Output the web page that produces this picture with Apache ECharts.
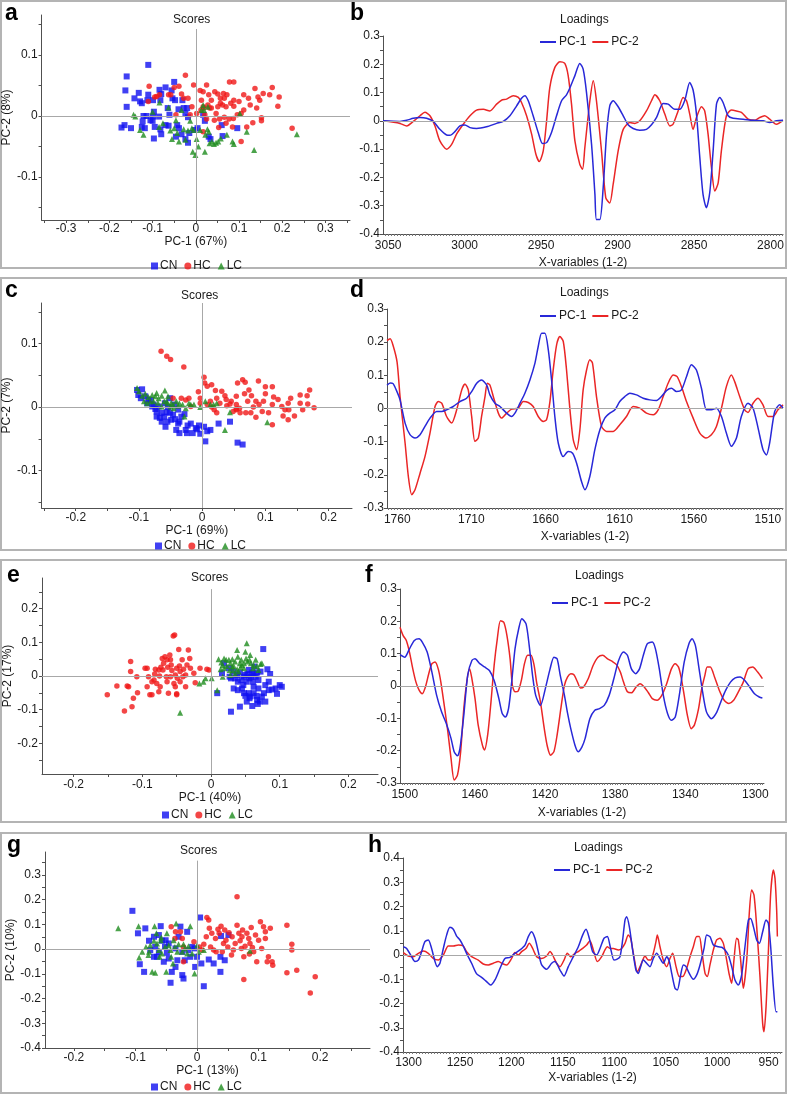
<!DOCTYPE html>
<html><head><meta charset="utf-8">
<script src="https://cdn.jsdelivr.net/npm/echarts@6/dist/echarts.min.js"></script>
<style>html,body{margin:0;padding:0;background:#fff}#c{width:787px;height:1094px}</style>
</head><body><div id="c"></div><script>
// ---------------- DATA ----------------
// Panel a scores
const aCN = [[-0.110,0.084],[-0.160,0.065],[-0.163,0.042],[-0.160,0.015],[-0.172,-0.019],[-0.165,-0.015],[-0.150,-0.020],[-0.142,0.029],[-0.132,0.038],[-0.129,0.024],[-0.125,0.021],[-0.121,0.000],[-0.114,0.000],[-0.123,-0.009],[-0.125,-0.018],[-0.118,-0.020],[-0.110,0.035],[-0.112,0.026],[-0.099,0.026],[-0.097,0.007],[-0.099,-0.001],[-0.100,-0.008],[-0.095,-0.018],[-0.097,-0.037],[-0.084,0.043],[-0.080,0.036],[-0.082,0.026],[-0.085,-0.001],[-0.082,-0.022],[-0.080,-0.030],[-0.070,0.047],[-0.065,0.013],[-0.061,0.002],[-0.070,-0.015],[-0.056,0.042],[-0.050,0.056],[-0.054,0.029],[-0.048,0.026],[-0.040,0.011],[-0.043,-0.015],[-0.046,-0.034],[-0.039,-0.020],[-0.031,0.026],[-0.028,0.013],[-0.020,0.013],[-0.024,0.004],[-0.018,-0.002],[-0.018,-0.044],[-0.015,-0.028],[-0.003,-0.023],[0.004,-0.020],[0.017,0.002],[0.021,-0.008],[0.030,-0.034],[0.034,-0.038],[0.060,-0.015],[0.062,-0.033],[0.096,-0.020],[-0.024,-0.038],[-0.033,-0.030],[-0.063,-0.016],[-0.105,-0.007]];
const aHC = [[-0.108,0.049],[-0.024,0.067],[-0.039,0.049],[-0.050,0.047],[-0.091,0.032],[-0.095,0.031],[-0.110,0.024],[-0.063,0.035],[-0.028,0.029],[-0.018,0.029],[-0.033,0.036],[-0.005,0.051],[0.010,0.042],[0.017,0.040],[0.025,0.051],[0.030,0.035],[0.044,0.040],[0.051,0.036],[0.057,0.029],[0.066,0.029],[0.072,0.035],[0.078,0.056],[0.088,0.056],[0.064,0.037],[0.036,0.026],[0.028,0.018],[0.019,0.013],[0.012,0.010],[0.002,0.004],[0.036,0.013],[0.051,0.015],[0.062,0.018],[0.070,0.015],[0.081,0.021],[0.088,0.016],[0.096,0.002],[0.105,0.004],[0.100,0.024],[0.122,0.029],[0.126,0.018],[0.137,0.045],[0.144,0.031],[0.148,0.026],[0.156,0.037],[0.171,0.035],[0.177,0.047],[0.193,0.031],[0.190,0.016],[0.141,0.013],[0.152,-0.003],[0.152,-0.008],[0.132,-0.011],[0.118,-0.018],[0.105,-0.042],[0.223,-0.020],[0.087,-0.004],[0.077,-0.005],[0.066,-0.002],[0.055,-0.005],[0.043,-0.007],[0.025,-0.005],[0.021,0.002],[0.085,-0.018],[0.070,-0.012],[0.053,-0.019],[0.013,0.026],[-0.009,0.015],[-0.013,0.002],[-0.046,0.002],[-0.058,0.035],[-0.084,0.035],[0.111,0.035],[0.088,0.026],[0.057,0.021],[0.111,0.010],[0.017,-0.026],[0.032,0.013],[0.047,0.004],[0.017,0.015]];
const aLC = [[-0.144,0.002],[-0.140,-0.001],[-0.129,-0.023],[-0.121,-0.031],[-0.100,0.007],[-0.085,-0.018],[-0.084,0.022],[-0.063,0.014],[-0.059,-0.024],[-0.055,-0.038],[-0.050,-0.020],[-0.046,-0.007],[-0.043,-0.028],[-0.039,-0.042],[-0.033,0.010],[-0.028,-0.022],[-0.013,-0.008],[-0.009,-0.020],[-0.005,-0.023],[-0.007,-0.059],[-0.001,-0.064],[0.002,-0.038],[0.010,-0.023],[0.013,0.010],[0.019,0.010],[0.022,-0.031],[0.021,-0.059],[0.027,-0.022],[0.030,-0.026],[0.032,-0.045],[0.037,-0.042],[0.042,-0.046],[0.047,-0.044],[0.052,-0.042],[0.058,-0.037],[0.072,-0.031],[0.085,-0.042],[0.088,-0.046],[0.102,0.004],[0.118,-0.026],[0.135,-0.056],[0.234,-0.030],[-0.018,-0.024],[-0.024,-0.039],[-0.076,-0.012],[0.006,-0.050],[0.017,0.018],[0.028,0.015]];

// Panel c scores
const cCN = [[-0.103,0.027],[-0.095,0.028],[-0.101,0.019],[-0.097,0.014],[-0.090,0.017],[-0.085,0.012],[-0.087,0.006],[-0.081,0.011],[-0.077,0.004],[-0.074,-0.003],[-0.072,-0.007],[-0.069,0.001],[-0.064,-0.009],[-0.060,-0.015],[-0.056,-0.008],[-0.054,0.000],[-0.051,-0.009],[-0.046,-0.012],[-0.043,-0.019],[-0.038,-0.004],[-0.036,-0.023],[-0.041,-0.036],[-0.036,-0.041],[-0.026,-0.036],[-0.024,-0.041],[-0.015,-0.041],[-0.018,-0.026],[-0.010,-0.033],[-0.008,-0.035],[-0.005,-0.029],[-0.003,-0.042],[0.005,-0.054],[0.008,-0.038],[0.013,-0.036],[0.003,-0.031],[0.026,-0.026],[0.044,-0.023],[0.056,-0.056],[0.064,-0.059],[-0.038,-0.026],[-0.049,-0.020],[-0.055,-0.023],[-0.058,-0.031],[-0.064,-0.023],[-0.067,-0.017],[-0.059,0.006],[-0.079,0.001],[-0.072,-0.015],[-0.033,-0.015],[-0.028,-0.011],[-0.023,-0.029],[-0.051,0.014],[-0.044,0.004]];
const cHC = [[-0.065,0.088],[-0.056,0.080],[-0.050,0.075],[-0.029,0.063],[0.003,0.047],[0.004,0.038],[-0.006,0.024],[0.008,0.033],[0.015,0.035],[0.021,0.026],[-0.003,0.014],[-0.021,0.014],[-0.033,0.014],[-0.046,0.014],[-0.003,0.006],[0.008,0.004],[0.013,0.009],[0.015,0.000],[0.019,-0.004],[0.023,-0.009],[0.028,0.006],[0.031,0.025],[0.036,0.018],[0.038,0.012],[0.039,0.002],[0.046,0.009],[0.049,-0.007],[0.054,0.017],[0.056,0.038],[0.064,0.043],[0.068,0.039],[0.074,0.027],[0.078,0.018],[0.067,0.021],[0.072,0.009],[0.059,-0.002],[0.060,-0.009],[0.069,-0.009],[0.077,-0.009],[0.081,0.000],[0.085,0.009],[0.090,0.004],[0.097,0.009],[0.089,0.041],[0.100,0.032],[0.111,0.032],[0.113,0.016],[0.100,0.021],[0.105,-0.009],[0.111,-0.028],[0.126,0.001],[0.131,-0.004],[0.128,-0.014],[0.136,-0.020],[0.137,-0.004],[0.140,0.014],[0.136,0.006],[0.146,-0.014],[0.159,-0.004],[0.166,0.018],[0.167,0.005],[0.177,-0.001],[0.170,0.027],[0.155,0.019],[0.155,0.006],[0.044,0.005],[0.054,-0.003],[0.085,-0.016],[0.095,-0.007],[0.111,0.004],[0.120,0.012],[0.054,0.004],[-0.018,0.001],[-0.026,0.011],[0.023,0.014],[0.054,-0.004]];
const cLC = [[-0.103,0.030],[-0.100,0.025],[-0.095,0.018],[-0.090,0.021],[-0.085,0.016],[-0.079,0.019],[-0.074,0.017],[-0.069,0.014],[-0.064,0.018],[-0.059,0.026],[-0.054,0.017],[-0.049,0.007],[-0.046,0.004],[-0.041,0.009],[-0.036,0.006],[-0.031,0.004],[-0.026,-0.002],[-0.021,0.006],[-0.013,0.004],[-0.003,0.000],[0.005,0.009],[0.013,0.004],[0.018,0.004],[0.023,0.006],[0.036,-0.036],[0.044,-0.008],[0.103,-0.024],[-0.092,0.009],[-0.087,0.006],[-0.077,0.009],[-0.070,0.007],[-0.060,0.009],[-0.055,0.006],[-0.050,0.001],[-0.045,-0.002],[-0.038,0.002],[-0.028,-0.015],[-0.018,0.004],[-0.064,0.001],[-0.056,0.009],[-0.072,0.022],[-0.082,0.009]];

// Panel e scores
const eCN = [[0.009,-0.051],[0.016,0.008],[0.019,0.038],[0.026,0.023],[0.027,-0.002],[0.029,-0.007],[0.033,0.013],[0.035,-0.007],[0.038,0.003],[0.039,-0.017],[0.042,0.010],[0.044,-0.012],[0.047,-0.027],[0.048,-0.002],[0.050,0.003],[0.052,-0.017],[0.053,0.006],[0.055,0.018],[0.056,-0.007],[0.058,-0.002],[0.060,0.010],[0.061,-0.017],[0.062,0.006],[0.063,0.028],[0.065,-0.002],[0.067,0.010],[0.069,-0.012],[0.072,0.013],[0.076,0.080],[0.082,0.020],[0.086,0.006],[0.042,-0.091],[0.029,-0.106],[0.060,-0.089],[0.048,-0.051],[0.050,-0.059],[0.055,-0.051],[0.057,-0.061],[0.062,-0.051],[0.066,-0.059],[0.067,-0.071],[0.071,-0.076],[0.074,-0.061],[0.077,-0.051],[0.079,-0.076],[0.084,-0.042],[0.089,-0.040],[0.094,-0.037],[0.096,-0.053],[0.100,-0.027],[0.103,-0.032],[0.033,-0.037],[0.039,-0.042],[0.045,-0.037],[0.062,-0.032],[0.079,-0.027],[0.084,-0.017],[0.069,-0.037],[0.056,-0.066],[0.052,-0.076],[0.068,-0.083]];
const eHC = [[-0.151,-0.056],[-0.137,-0.030],[-0.126,-0.104],[-0.122,-0.030],[-0.120,-0.032],[-0.117,0.043],[-0.117,0.013],[-0.115,-0.091],[-0.113,-0.066],[-0.108,-0.002],[-0.107,-0.050],[-0.096,0.023],[-0.093,0.023],[-0.089,-0.056],[-0.086,-0.056],[-0.083,-0.012],[-0.082,0.006],[-0.081,0.020],[-0.079,-0.022],[-0.076,-0.047],[-0.075,0.000],[-0.073,0.026],[-0.071,0.052],[-0.070,0.018],[-0.069,0.038],[-0.067,0.057],[-0.065,-0.002],[-0.063,0.026],[-0.062,-0.051],[-0.060,0.062],[-0.059,0.048],[-0.058,0.033],[-0.057,0.016],[-0.055,0.119],[-0.053,0.122],[-0.054,-0.022],[-0.052,-0.032],[-0.050,-0.056],[-0.050,-0.053],[-0.049,-0.007],[-0.047,0.079],[-0.046,0.030],[-0.045,0.013],[-0.042,0.048],[-0.041,-0.002],[-0.040,0.020],[-0.037,-0.032],[-0.035,0.033],[-0.033,0.077],[-0.031,0.052],[-0.030,0.023],[-0.025,0.008],[-0.023,-0.020],[-0.016,0.023],[-0.003,0.018],[-0.006,0.020],[-0.093,-0.032],[-0.086,-0.017],[-0.064,-0.017],[-0.074,-0.032],[-0.059,-0.002],[-0.052,0.003],[-0.045,-0.017],[-0.037,0.003],[-0.076,0.018],[-0.091,-0.002],[-0.064,0.048],[-0.050,0.023]];
const eLC = [[-0.045,-0.109],[-0.017,-0.022],[-0.011,-0.017],[-0.008,-0.007],[0.001,-0.007],[0.009,-0.042],[0.011,0.050],[0.015,0.040],[0.017,0.033],[0.019,0.052],[0.022,0.048],[0.026,0.048],[0.028,0.038],[0.031,0.050],[0.033,0.030],[0.035,0.043],[0.038,0.077],[0.039,0.057],[0.042,0.038],[0.044,0.048],[0.045,0.033],[0.048,0.023],[0.050,0.072],[0.051,0.052],[0.052,0.097],[0.053,0.043],[0.056,0.048],[0.058,0.038],[0.061,0.023],[0.065,0.048],[0.067,0.030],[0.069,0.018],[0.072,0.036],[0.074,0.038],[0.014,0.020],[0.019,0.023],[0.027,0.018],[0.032,0.016],[0.038,0.020],[0.043,0.026],[0.040,0.013],[0.035,0.006],[0.031,0.028],[0.048,0.038],[0.057,0.062],[0.062,0.033],[0.023,0.030],[0.017,-0.002],[0.028,0.003]];

// Panel g scores
const gCN = [[-0.105,0.155],[0.005,0.128],[-0.096,0.064],[-0.093,-0.061],[-0.086,-0.092],[-0.084,0.084],[-0.078,0.034],[-0.076,-0.004],[-0.070,0.050],[-0.068,0.009],[-0.065,-0.031],[-0.062,-0.011],[-0.059,0.093],[-0.057,0.034],[-0.054,-0.051],[-0.051,0.036],[-0.049,-0.015],[-0.046,-0.038],[-0.043,-0.136],[-0.041,-0.092],[-0.035,0.003],[-0.032,-0.045],[-0.030,0.050],[-0.027,0.091],[-0.024,-0.105],[-0.022,-0.119],[-0.020,-0.045],[-0.016,0.070],[-0.014,-0.004],[-0.011,-0.031],[-0.008,0.009],[-0.004,0.003],[-0.003,-0.072],[0.000,-0.031],[0.007,-0.058],[0.011,-0.150],[0.019,-0.042],[0.027,-0.058],[0.038,-0.031],[0.038,-0.092],[0.039,0.053],[0.045,-0.045],[0.051,0.057],[-0.035,-0.072],[-0.052,0.009],[-0.070,-0.031],[-0.024,-0.011],[-0.046,0.023],[-0.062,0.057]];
const gHC = [[-0.042,0.091],[-0.027,0.070],[-0.024,0.043],[-0.035,0.070],[-0.036,0.043],[-0.022,0.009],[-0.005,0.030],[0.004,0.009],[0.008,-0.004],[0.011,0.020],[0.016,0.128],[0.019,0.118],[0.020,0.084],[0.024,0.064],[0.027,-0.004],[0.030,0.043],[0.031,-0.011],[0.034,0.080],[0.036,0.064],[0.039,0.093],[0.041,-0.011],[0.043,0.023],[0.045,0.077],[0.047,0.036],[0.050,0.009],[0.052,0.066],[0.056,-0.024],[0.059,-0.004],[0.062,0.023],[0.065,0.097],[0.068,0.064],[0.070,0.034],[0.072,0.003],[0.074,0.077],[0.076,-0.031],[0.078,0.012],[0.081,0.064],[0.084,0.043],[0.085,-0.020],[0.086,0.023],[0.088,0.088],[0.090,0.007],[0.095,0.057],[0.097,-0.051],[0.100,0.036],[0.103,0.111],[0.105,0.003],[0.108,0.091],[0.111,0.043],[0.114,-0.051],[0.116,-0.031],[0.119,0.084],[0.122,-0.051],[0.123,-0.065],[0.111,0.070],[0.146,0.097],[0.154,0.020],[0.154,-0.004],[0.146,-0.096],[0.162,-0.085],[0.192,-0.112],[0.184,-0.177],[0.076,-0.123],[-0.022,-0.051],[0.015,0.050],[0.022,0.009],[0.057,0.050],[0.073,0.050],[0.092,-0.011],[0.065,0.212]];
const gLC = [[-0.128,0.084],[-0.095,0.093],[-0.094,-0.034],[-0.089,-0.011],[-0.083,0.009],[-0.079,-0.024],[-0.076,0.016],[-0.073,-0.092],[-0.070,0.034],[-0.069,0.093],[-0.066,0.064],[-0.065,0.023],[-0.062,-0.004],[-0.059,0.036],[-0.058,0.047],[-0.057,-0.018],[-0.052,0.009],[-0.050,-0.092],[-0.049,0.064],[-0.046,0.016],[-0.043,-0.004],[-0.042,-0.031],[-0.039,-0.058],[-0.036,0.009],[-0.034,0.104],[-0.032,-0.011],[-0.030,0.020],[-0.024,-0.011],[-0.020,0.003],[-0.016,-0.018],[-0.014,0.012],[-0.011,0.093],[-0.008,-0.018],[-0.004,-0.099],[0.000,0.016],[0.003,-0.011],[0.011,-0.004],[0.086,-0.007],[-0.068,-0.096],[-0.078,-0.011],[-0.061,-0.031],[-0.038,0.036],[-0.022,0.020]];

// Panel b loadings  [wavenumber, loading]
const bPC1 = [[3053.4,0],[3042.3,-0.002],[3037.9,0.002],[3033.6,0.009],[3029.2,0.012],[3024.9,0.009],[3020.5,-0.002],[3016.2,-0.030],[3011.8,-0.050],[3009.6,-0.051],[3006.4,-0.038],[3003.1,-0.018],[2999.8,-0.015],[2996.5,-0.024],[2992.2,-0.027],[2985.7,-0.021],[2979.1,-0.009],[2974.8,-0.002],[2970.4,0.018],[2966.0,0.053],[2962.8,0.080],[2960.6,0.089],[2958.4,0.071],[2955.2,0.018],[2951.9,-0.041],[2949.1,-0.080],[2946.4,-0.077],[2943.2,-0.041],[2939.9,0.018],[2936.6,0.071],[2933.4,0.092],[2931.2,0.116],[2927.9,0.160],[2924.7,0.203],[2922.5,0.183],[2920.3,0.100],[2917.0,-0.083],[2914.8,-0.260],[2913.8,-0.349],[2911.6,-0.349],[2909.4,-0.236],[2907.2,-0.047],[2905.1,0.053],[2902.9,0.071],[2899.6,0.050],[2896.3,0.018],[2893.1,-0.014],[2889.8,-0.027],[2885.5,-0.033],[2881.1,-0.030],[2877.8,-0.014],[2874.5,0.012],[2870.2,0.061],[2866.9,0.059],[2862.6,0.041],[2859.3,0.041],[2856.0,0.073],[2852.8,0.136],[2850.6,0.109],[2848.4,0.024],[2846.2,-0.130],[2844.1,-0.260],[2841.9,-0.307],[2839.7,-0.254],[2837.5,-0.106],[2835.3,0.059],[2833.2,0.083],[2831.0,0.065],[2827.7,0.018],[2824.4,0.009],[2817.9,0.006],[2811.4,0.002],[2804.8,0],[2800.5,-0.006],[2796.1,0],[2791.8,0.002]];
const bPC2 = [[3053.4,0],[3042.3,-0.009],[3037.9,-0.018],[3033.6,-0.002],[3029.2,0.018],[3026.0,0.030],[3022.7,0.018],[3019.4,-0.018],[3016.2,-0.071],[3011.8,-0.100],[3008.5,-0.083],[3005.3,-0.047],[3000.9,-0.012],[2996.5,0.018],[2992.2,0.038],[2987.8,0.041],[2983.5,0.035],[2979.1,0.059],[2975.9,0.073],[2972.6,0.077],[2968.2,0.089],[2964.9,0.083],[2962.8,0.065],[2959.5,0.018],[2956.2,-0.047],[2953.4,-0.118],[2951.2,-0.144],[2948.6,-0.106],[2946.4,0],[2944.3,0.118],[2941.0,0.189],[2937.7,0.209],[2934.5,0.203],[2932.3,0.160],[2930.1,0.059],[2927.9,-0.071],[2924.7,-0.154],[2922.9,-0.171],[2921.4,-0.095],[2918.1,0.071],[2915.9,0.142],[2913.8,0.071],[2910.5,-0.106],[2907.7,-0.272],[2905.1,-0.290],[2902.9,-0.225],[2899.6,-0.106],[2896.3,-0.030],[2892.0,-0.006],[2888.7,-0.009],[2885.5,0],[2881.1,0.035],[2877.8,0.071],[2875.6,0.092],[2872.4,0.071],[2869.1,0.024],[2865.8,-0.018],[2863.7,-0.012],[2860.4,0.035],[2857.1,0.083],[2854.9,0.071],[2852.8,0.024],[2850.6,-0.030],[2848.4,0.012],[2845.1,0.050],[2843.0,0.035],[2840.8,-0.047],[2838.6,-0.165],[2836.4,-0.248],[2834.2,-0.219],[2832.1,-0.106],[2828.8,0.018],[2825.5,0.038],[2822.3,0.035],[2819.0,0.030],[2814.6,0.006],[2810.3,0.002],[2807.0,0.012],[2803.7,0.018],[2800.5,0.006],[2796.1,-0.012],[2791.8,0.002]];

// Panel d loadings
const dPC1 = [[1766.9,0.070],[1764.8,0.077],[1762.8,0.075],[1760.1,0.050],[1758.1,0.026],[1754.7,-0.044],[1751.4,-0.079],[1748.0,-0.089],[1744.6,-0.079],[1741.3,-0.054],[1737.9,-0.029],[1733.4,-0.009],[1730.0,-0.009],[1726.7,-0.004],[1722.2,0.006],[1717.7,0.021],[1713.2,0.031],[1709.8,0.051],[1706.4,0.076],[1703.1,0.086],[1699.7,0.071],[1697.5,0.041],[1694.1,0.016],[1690.7,0.006],[1686.2,-0.014],[1682.9,-0.024],[1680.6,-0.014],[1677.2,0.016],[1673.9,0.046],[1670.5,0.086],[1667.1,0.137],[1664.9,0.187],[1662.6,0.227],[1660.4,0.227],[1658.1,0.177],[1655.9,0.086],[1653.7,-0.024],[1651.4,-0.104],[1648.0,-0.145],[1644.7,-0.130],[1641.7,-0.135],[1639.0,-0.165],[1635.7,-0.220],[1633.4,-0.245],[1630.1,-0.205],[1626.7,-0.124],[1623.3,-0.064],[1620.0,-0.029],[1616.6,-0.014],[1613.2,-0.004],[1609.9,0.021],[1606.5,0.036],[1603.1,0.046],[1598.6,0.041],[1594.1,0.031],[1589.6,0.026],[1585.1,0.024],[1581.8,0.036],[1578.4,0.054],[1575.0,0.061],[1571.7,0.051],[1568.3,0.056],[1564.9,0.096],[1561.6,0.132],[1558.2,0.116],[1554.8,0.061],[1551.4,-0.004],[1548.1,-0.004],[1544.7,0.001],[1541.3,-0.024],[1538.0,-0.074],[1534.6,-0.114],[1531.2,-0.089],[1527.9,-0.024],[1523.4,0.016],[1520.0,0.001],[1516.6,-0.059],[1513.3,-0.124],[1511.0,-0.140],[1508.8,-0.104],[1505.4,-0.009],[1502.0,0.011],[1499.8,0.001]];
const dPC2 = [[1766.9,0.205],[1764.8,0.210],[1762.8,0.190],[1760.1,0.140],[1758.1,0.036],[1754.7,-0.104],[1752.5,-0.205],[1750.2,-0.260],[1748.0,-0.245],[1744.6,-0.195],[1741.3,-0.145],[1737.9,-0.074],[1734.5,0.006],[1732.3,0.021],[1730.0,0.016],[1726.7,-0.024],[1723.3,-0.044],[1719.9,-0.004],[1716.5,0.056],[1714.3,0.074],[1712.1,0.056],[1709.8,-0.024],[1707.6,-0.099],[1705.3,-0.089],[1703.1,-0.024],[1700.8,0.036],[1699.2,0.076],[1697.5,0.071],[1695.2,0.036],[1691.8,-0.014],[1689.6,-0.029],[1686.2,-0.014],[1682.9,-0.002],[1678.4,0.001],[1675.0,0.021],[1671.6,0.018],[1668.3,0.006],[1664.9,-0.024],[1661.5,-0.039],[1659.3,-0.034],[1657.0,0.021],[1654.8,0.116],[1652.5,0.192],[1650.3,0.217],[1648.0,0.202],[1645.8,0.116],[1643.5,-0.004],[1641.3,-0.094],[1639.0,-0.124],[1636.8,-0.064],[1634.6,0.056],[1632.3,0.116],[1630.1,0.147],[1628.3,0.137],[1625.6,0.036],[1622.2,-0.054],[1618.8,-0.069],[1614.3,-0.069],[1609.9,-0.049],[1605.4,-0.024],[1600.9,0.006],[1596.4,0.001],[1591.9,-0.014],[1587.4,-0.019],[1584.0,-0.004],[1580.6,0.036],[1577.3,0.076],[1573.9,0.101],[1571.2,0.096],[1568.3,0.066],[1564.9,0.021],[1560.4,-0.029],[1555.9,-0.074],[1551.9,-0.089],[1548.1,-0.079],[1544.7,-0.054],[1541.3,0.001],[1538.0,0.066],[1534.6,0.101],[1532.4,0.081],[1529.0,0.036],[1525.6,-0.004],[1523.4,-0.012],[1520.0,0.016],[1516.6,0.031],[1513.3,0.011],[1509.9,-0.024],[1506.5,-0.024],[1503.2,-0.004],[1499.8,0.011]];

// Panel f loadings
const fPC1 = [[1502.7,0.097],[1500.0,0.089],[1497.3,0.115],[1494.5,0.141],[1491.8,0.146],[1490.0,0.136],[1487.2,0.105],[1484.5,0.043],[1481.8,-0.029],[1479.0,-0.080],[1476.3,-0.116],[1473.6,-0.162],[1471.8,-0.203],[1469.9,-0.216],[1468.5,-0.193],[1466.3,-0.090],[1464.1,0.033],[1461.7,0.079],[1459.9,0.084],[1457.2,0.069],[1454.5,0.059],[1451.7,0.048],[1449.0,0.017],[1446.3,-0.039],[1444.4,-0.085],[1442.6,-0.096],[1440.8,-0.070],[1439.0,0.012],[1437.1,0.115],[1435.0,0.177],[1433.2,0.208],[1430.8,0.192],[1429.0,0.125],[1427.1,0.033],[1425.3,-0.029],[1422.6,-0.060],[1419.8,-0.008],[1417.1,0.053],[1414.9,0.089],[1413.1,0.084],[1411.3,0.033],[1408.9,-0.029],[1407.1,-0.085],[1405.3,-0.132],[1402.9,-0.183],[1401.1,-0.203],[1398.9,-0.188],[1397.1,-0.162],[1394.4,-0.101],[1391.6,-0.075],[1388.9,-0.070],[1386.2,-0.060],[1383.4,-0.029],[1380.7,0.023],[1378.0,0.079],[1375.2,0.105],[1373.0,0.095],[1370.7,0.053],[1368.3,0.038],[1366.1,0.053],[1363.9,0.095],[1361.6,0.131],[1358.8,0.136],[1357.0,0.115],[1354.8,0.053],[1352.5,-0.029],[1350.1,-0.085],[1347.9,-0.106],[1345.7,-0.096],[1343.4,-0.029],[1340.6,0.074],[1337.9,0.131],[1336.1,0.146],[1334.2,0.125],[1332.4,0.064],[1330.1,-0.018],[1327.9,-0.080],[1325.1,-0.101],[1322.4,-0.085],[1319.7,-0.049],[1316.9,-0.013],[1314.2,0.012],[1311.5,0.025],[1308.7,0.028],[1306.0,0.017],[1303.3,-0.003],[1300.5,-0.024],[1297.8,-0.034],[1296.0,-0.037]];
const fPC2 = [[1502.7,0.182],[1500.9,0.156],[1499.1,0.141],[1497.3,0.105],[1495.4,0.053],[1493.6,0.012],[1491.8,-0.013],[1490.0,-0.024],[1488.2,-0.003],[1486.3,0.038],[1484.5,0.069],[1482.7,0.074],[1480.9,0.053],[1479.4,0.012],[1477.2,-0.070],[1475.4,-0.142],[1473.6,-0.224],[1471.8,-0.291],[1469.9,-0.275],[1468.1,-0.203],[1466.3,-0.070],[1464.5,0.017],[1463.0,0.053],[1461.7,0.023],[1459.9,-0.039],[1458.1,-0.121],[1455.7,-0.183],[1454.5,-0.198],[1452.6,-0.147],[1450.8,-0.049],[1449.0,0.064],[1447.2,0.146],[1445.4,0.202],[1443.5,0.197],[1441.7,0.156],[1439.9,0.084],[1438.6,0.002],[1437.1,-0.018],[1435.3,-0.016],[1433.5,0.017],[1431.7,0.069],[1429.9,0.095],[1428.0,0.095],[1426.2,0.064],[1424.8,0.012],[1422.6,-0.049],[1420.4,-0.132],[1418.6,-0.188],[1416.8,-0.214],[1414.9,-0.203],[1413.1,-0.152],[1410.7,-0.060],[1408.9,0.002],[1407.1,0.028],[1405.3,0.038],[1403.5,0.035],[1401.6,0.014],[1399.8,-0.006],[1398.0,-0.003],[1395.3,0.023],[1392.5,0.064],[1389.8,0.089],[1387.1,0.095],[1384.3,0.084],[1381.6,0.076],[1379.2,0.066],[1377.0,0.043],[1375.2,0.012],[1373.0,-0.018],[1370.7,-0.021],[1368.0,-0.003],[1365.8,0.007],[1363.4,-0.003],[1361.0,-0.021],[1358.8,-0.039],[1356.1,-0.044],[1353.4,-0.029],[1350.6,0.007],[1347.9,0.053],[1345.7,0.069],[1343.9,0.059],[1342.4,0.028],[1340.6,-0.029],[1338.8,-0.090],[1336.6,-0.132],[1334.8,-0.121],[1332.4,-0.070],[1330.6,-0.008],[1328.8,0.033],[1327.5,0.059],[1325.7,0.059],[1323.3,0.028],[1320.6,-0.013],[1317.8,-0.044],[1315.1,-0.054],[1312.4,-0.044],[1309.7,-0.018],[1306.9,0.012],[1304.2,0.053],[1301.5,0.059],[1298.7,0.043],[1296.0,0.023]];

// Panel h loadings
const hPC1 = [[1305.1,0.034],[1301.9,0.027],[1297.0,-0.007],[1293.8,-0.027],[1290.5,-0.021],[1287.3,0.014],[1284.1,0.055],[1280.8,0.062],[1277.6,0.027],[1274.3,-0.027],[1272.1,-0.048],[1269.5,-0.034],[1266.2,0.027],[1263.0,0.082],[1259.8,0.114],[1256.5,0.106],[1253.3,0.078],[1250.0,0.062],[1246.8,0.037],[1243.6,0.007],[1238.7,-0.034],[1233.8,-0.078],[1229.0,-0.092],[1224.1,-0.110],[1220.2,-0.124],[1216.0,-0.103],[1211.1,-0.055],[1206.3,-0.014],[1201.4,-0.010],[1196.6,0.007],[1191.7,0.021],[1186.8,0.041],[1183.6,0.076],[1180.4,0.096],[1177.1,0.069],[1173.9,0.014],[1170.6,-0.041],[1165.8,-0.059],[1160.9,-0.034],[1157.7,-0.027],[1152.8,-0.062],[1148.9,-0.087],[1144.7,-0.048],[1139.8,-0.007],[1135.0,0.034],[1130.8,0.082],[1127.5,0.106],[1124.3,0.069],[1121.1,0.014],[1117.2,0],[1113.9,0.027],[1110.0,0.069],[1106.8,0.076],[1103.6,0.027],[1100.3,-0.021],[1097.7,-0.018],[1094.5,-0.007],[1091.9,0.062],[1089.6,0.144],[1088.0,0.158],[1085.4,0.117],[1082.2,0.021],[1079.0,-0.062],[1076.7,-0.076],[1074.4,-0.048],[1071.8,-0.021],[1068.6,-0.034],[1065.3,-0.048],[1062.1,-0.014],[1058.8,0.007],[1055.6,-0.014],[1052.4,-0.034],[1049.1,-0.007],[1046.5,-0.027],[1044.2,-0.076],[1041.0,-0.137],[1038.7,-0.144],[1035.5,-0.082],[1032.9,-0.041],[1030.3,-0.048],[1027.1,-0.076],[1023.2,-0.100],[1019.9,-0.082],[1016.7,-0.041],[1012.8,0.027],[1010.2,0.082],[1007.0,0.076],[1003.7,0.041],[998.9,0.034],[995.6,0.032],[992.4,0.021],[989.2,0],[985.9,-0.048],[982.7,-0.103],[979.5,-0.124],[976.2,-0.082],[973.0,0.034],[969.7,0.144],[967.5,0.151],[964.8,0.117],[961.6,0.062],[959.0,0.048],[955.8,0.096],[952.5,0.144],[950.3,0.131],[948.0,0.034],[945.4,-0.131],[942.8,-0.234],[941.5,-0.234]];
const hPC2 = [[1305.1,0.010],[1300.3,-0.004],[1295.4,-0.007],[1290.5,0.007],[1285.7,0.016],[1280.8,0.007],[1276.0,-0.014],[1271.1,-0.021],[1266.2,0],[1261.4,0.037],[1256.5,0.037],[1251.6,0.041],[1246.8,0.037],[1243.6,0.014],[1238.7,-0.007],[1232.2,-0.021],[1227.4,-0.037],[1222.5,-0.041],[1217.6,-0.034],[1212.8,-0.027],[1207.9,-0.037],[1204.7,-0.041],[1199.8,-0.014],[1196.6,0.010],[1193.3,0],[1190.1,0.014],[1185.9,0.027],[1182.6,0.048],[1179.4,0.027],[1175.5,-0.007],[1170.6,-0.014],[1165.8,-0.004],[1162.5,0.014],[1160.0,0],[1156.1,-0.034],[1152.8,-0.048],[1148.9,-0.021],[1145.7,0.007],[1142.4,-0.007],[1138.2,0.007],[1135.0,0.014],[1130.8,0.027],[1126.9,0.041],[1123.7,0.059],[1120.4,0.021],[1116.5,-0.027],[1112.3,-0.007],[1109.1,0.021],[1106.8,0.034],[1104.2,0.027],[1101.0,0.027],[1096.1,0.021],[1092.9,0.027],[1089.6,0.048],[1086.4,0.082],[1084.1,0.069],[1081.5,0.007],[1077.6,-0.069],[1075.0,-0.048],[1072.4,-0.021],[1070.2,-0.004],[1066.9,-0.021],[1064.7,-0.021],[1062.1,0.007],[1059.5,0.055],[1058.2,0.082],[1055.6,0.034],[1052.4,-0.021],[1049.1,-0.048],[1045.9,-0.014],[1043.3,0.007],[1040.0,-0.048],[1036.8,-0.089],[1033.6,-0.089],[1029.7,-0.055],[1026.4,-0.007],[1023.2,0.034],[1019.9,0.076],[1017.4,0.076],[1015.1,0.021],[1011.8,-0.076],[1009.6,-0.089],[1007.0,-0.041],[1003.7,0.021],[1000.5,0.062],[997.3,0.069],[994.0,0.048],[990.8,-0.021],[988.2,-0.082],[985.9,-0.117],[983.7,-0.021],[981.1,0.069],[979.5,0.062],[977.2,-0.021],[974.6,-0.137],[971.3,-0.021],[968.8,0.172],[966.5,0.268],[964.2,0.247],[961.6,0.117],[958.4,-0.089],[955.8,-0.282],[954.5,-0.316],[952.5,-0.213],[950.3,0.007],[948.0,0.254],[945.4,0.351],[943.8,0.316],[942.2,0.186],[941.5,0.076]];

// Tick labels
const aXLabels = [-0.3,-0.2,-0.1,0,0.1,0.2,0.3];
const aYLabels = [-0.1,0,0.1];
const cXLabels = [-0.2,-0.1,0,0.1,0.2];
const cYLabels = [-0.1,0,0.1];
const eXLabels = [-0.2,-0.1,0,0.1,0.2];
const eYLabels = [-0.2,-0.1,0,0.1,0.2];
const gXLabels = [-0.2,-0.1,0,0.1,0.2];
const gYLabels = [-0.4,-0.3,-0.2,-0.1,0,0.1,0.2,0.3];
const bXLabels = [3050,3000,2950,2900,2850,2800];
const bYLabels = [-0.4,-0.3,-0.2,-0.1,0,0.1,0.2,0.3];
const dXLabels = [1760,1710,1660,1610,1560,1510];
const dYLabels = [-0.3,-0.2,-0.1,0,0.1,0.2,0.3];
const fXLabels = [1500,1460,1420,1380,1340,1300];
const fYLabels = [-0.3,-0.2,-0.1,0,0.1,0.2,0.3];
const hXLabels = [1300,1250,1200,1150,1100,1050,1000,950];
const hYLabels = [-0.4,-0.3,-0.2,-0.1,0,0.1,0.2,0.3,0.4];

// ---------------- CHART ----------------
const FF = '"Liberation Sans", Arial, sans-serif';
const TXT = '#1a1a1a';
const AX = '#505050';
const ZERO = '#a8a8a8';
const COL = {CN:'#1010f0', HC:'#f01818', LC:'#1e8c1e', PC1:'#2828d8', PC2:'#ea2626'};

function halfSteps(min, max, step) {
  const out = [];
  const s = Math.ceil(min / step - 1e-9);
  for (let k = s; k * step <= max + 1e-9; k++) out.push(Math.round(k * step * 1000) / 1000);
  return out;
}

const grids = [], xAxes = [], yAxes = [], series = [], legends = [], graphics = [];

function addScatter(p) {
  const gi = grids.length;
  grids.push({left:p.g[0], top:p.g[1], width:p.g[2], height:p.g[3]});
  xAxes.push({gridIndex:gi, type:'value', min:p.x[0], max:p.x[1],
    name:p.xName, nameLocation:'middle', nameGap:p.xGap,
    nameTextStyle:{fontFamily:FF, fontSize:12, color:TXT},
    axisLine:{onZero:false, lineStyle:{color:AX, width:1}},
    axisTick:{customValues:halfSteps(p.x[0], p.x[1], 0.05), length:3, lineStyle:{color:AX}},
    axisLabel:{customValues:p.xl, formatter:v=>String(v), margin:p.xm, fontFamily:FF, fontSize:12, color:TXT},
    splitLine:{show:false}});
  yAxes.push({gridIndex:gi, type:'value', min:p.y[0], max:p.y[1],
    name:p.yName, nameLocation:'middle', nameGap:p.yGap, nameRotate:90,
    nameTextStyle:{fontFamily:FF, fontSize:12, color:TXT},
    axisLine:{onZero:false, lineStyle:{color:AX, width:1}},
    axisTick:{customValues:halfSteps(p.y[0], p.y[1], 0.05), length:3, lineStyle:{color:AX}},
    axisLabel:{customValues:p.yl, formatter:v=>String(v), margin:4, fontFamily:FF, fontSize:12, color:TXT},
    splitLine:{show:false}});
  const common = {type:'scatter', xAxisIndex:gi, yAxisIndex:gi, animation:false, z:3};
  series.push(Object.assign({}, common, {name:'CN', data:p.CN, symbol:'rect', symbolSize:6, itemStyle:{color:COL.CN},
    markLine:{silent:true, symbol:['none','none'], label:{show:false}, animation:false,
      lineStyle:{color:ZERO, type:'solid', width:1},
      data:[[{coord:[0, p.vTop]},{coord:[0, p.y[0]]}],[{coord:[p.x[0],0]},{coord:[p.x[1],0]}]]}}));
  series.push(Object.assign({}, common, {name:'HC', data:p.HC, symbol:'circle', symbolSize:5.5, itemStyle:{color:COL.HC}}));
  series.push(Object.assign({}, common, {name:'LC', data:p.LC, symbol:'triangle', symbolSize:6, itemStyle:{color:COL.LC}}));
  legends.push({left:p.leg[0], top:p.leg[1], itemWidth:7, itemHeight:7, itemGap:7, selectedMode:false,
    textStyle:{fontFamily:FF, fontSize:12, color:TXT, padding:[0,0,0,-3]},
    data:[{name:'CN', icon:'rect'},{name:'HC', icon:'circle'},{name:'LC', icon:'triangle'}]});
  graphics.push({type:'text', left:p.title[0] - 17, top:p.title[1] - 7, style:{text:'Scores', font:'12px ' + FF, fill:TXT}});
}

function addLoad(p) {
  const gi = grids.length;
  grids.push({left:p.g[0], top:p.g[1], width:p.g[2], height:p.g[3]});
  xAxes.push({gridIndex:gi, type:'value', min:p.x[0], max:p.x[1], inverse:true,
    name:'X-variables (1-2)', nameLocation:'middle', nameGap:p.xGap,
    nameTextStyle:{fontFamily:FF, fontSize:12, color:TXT},
    axisLine:{onZero:false, lineStyle:{color:AX, width:1}},
    axisTick:{customValues:halfSteps(p.x[0], p.x[1], p.tickStep), length:2, lineStyle:{color:'#777'}},
    axisLabel:{customValues:p.xl, formatter:v=>String(v), margin:p.xm, fontFamily:FF, fontSize:12, color:TXT},
    splitLine:{show:false}});
  yAxes.push({gridIndex:gi, type:'value', min:p.y[0], max:p.y[1],
    axisLine:{onZero:false, lineStyle:{color:AX, width:1}},
    axisTick:{customValues:halfSteps(p.y[0], p.y[1], 0.05), length:3, lineStyle:{color:AX}},
    axisLabel:{customValues:p.yl, formatter:v=>String(v), margin:3, fontFamily:FF, fontSize:12, color:TXT},
    splitLine:{show:false}});
  const common = {type:'line', xAxisIndex:gi, yAxisIndex:gi, animation:false, symbol:'none', smooth:0.25};
  series.push(Object.assign({}, common, {name:'PC-1', data:p.P1, lineStyle:{color:COL.PC1, width:1.5}, itemStyle:{color:COL.PC1}, z:3,
    markLine:{silent:true, symbol:['none','none'], label:{show:false}, animation:false,
      lineStyle:{color:ZERO, type:'solid', width:1}, data:[{yAxis:0}]}}));
  series.push(Object.assign({}, common, {name:'PC-2', data:p.P2, lineStyle:{color:COL.PC2, width:1.5}, itemStyle:{color:COL.PC2}, z:2}));
  legends.push({left:p.leg[0], top:p.leg[1], itemWidth:16, itemHeight:2, itemGap:6, selectedMode:false,
    textStyle:{fontFamily:FF, fontSize:12, color:TXT, padding:[0,0,0,-2]},
    data:[{name:'PC-1', icon:'rect'},{name:'PC-2', icon:'rect'}]});
  graphics.push({type:'text', left:p.title[0] - 23, top:p.title[1] - 7, style:{text:'Loadings', font:'12px ' + FF, fill:TXT}});
}

addScatter({g:[32,15,318,205], x:[-0.357,0.357], y:[-0.171,0.166], xl:aXLabels, yl:aYLabels, xm:3, xGap:13,
  xName:'PC-1 (67%)', yName:'PC-2 (8%)', yGap:18, CN:aCN, HC:aHC, LC:aLC, vTop:0.143, leg:[146,255], title:[190,21]});
addLoad({g:[383,36,400,198], x:[2791.8,3053.4], y:[-0.4,0.3], xl:bXLabels, yl:bYLabels, xm:6, xGap:23, tickStep:2,
  P1:bPC1, P2:bPC2, leg:[535,31], title:[583,21]});
addScatter({g:[33,303,319,205], x:[-0.254,0.237], y:[-0.159,0.164], xl:cXLabels, yl:cYLabels, xm:4, xGap:14,
  xName:'PC-1 (69%)', yName:'PC-2 (7%)', yGap:17, CN:cCN, HC:cHC, LC:cLC, vTop:0.164, leg:[150,535], title:[198,297]});
addLoad({g:[387,309,396,199], x:[1499.8,1766.9], y:[-0.3,0.3], xl:dXLabels, yl:dYLabels, xm:6, xGap:23, tickStep:2,
  P1:dPC1, P2:dPC2, leg:[535,305], title:[583,294]});
addScatter({g:[42,578,336,196], x:[-0.246,0.243], y:[-0.291,0.291], xl:eXLabels, yl:eYLabels, xm:5, xGap:17,
  xName:'PC-1 (40%)', yName:'PC-2 (17%)', yGap:26, CN:eCN, HC:eHC, LC:eLC, vTop:0.258, leg:[157,804], title:[208,579]});
addLoad({g:[400,589,380,194], x:[1295.1,1502.7], y:[-0.3,0.3], xl:fXLabels, yl:fYLabels, xm:6, xGap:24, tickStep:1.5,
  P1:fPC1, P2:fPC2, leg:[547,592], title:[598,577]});
addScatter({g:[45,852,325,196], x:[-0.247,0.281], y:[-0.4,0.393], xl:gXLabels, yl:gYLabels, xm:4, xGap:14,
  xName:'PC-1 (13%)', yName:'PC-2 (10%)', yGap:27, CN:gCN, HC:gHC, LC:gLC, vTop:0.358, leg:[146,1076], title:[197,852]});
addLoad({g:[403,858,379,194], x:[937,1305.4], y:[-0.4,0.4], xl:hXLabels, yl:hYLabels, xm:5, xGap:20, tickStep:3,
  P1:hPC1, P2:hPC2, leg:[549,859], title:[597,849]});

// panel frames
[[1,1,785,267],[1,278,785,272],[1,560,785,262],[1,833,785,260]].forEach(r => {
  graphics.push({type:'rect', shape:{x:r[0], y:r[1], width:r[2], height:r[3]}, z:-1,
    style:{fill:'none', stroke:'#b4b4b4', lineWidth:2}});
});
// panel letters
[['a',5,2],['b',350,2],['c',5,279],['d',350,279],['e',7,564],['f',365,564],['g',7,834],['h',368,834]].forEach(l => {
  graphics.push({type:'text', left:l[1], top:l[2], style:{text:l[0], font:'bold 23px ' + FF, fill:'#000'}});
});

const chart = echarts.init(document.getElementById('c'));
chart.setOption({
  backgroundColor:'#ffffff', animation:false,
  grid:grids, xAxis:xAxes, yAxis:yAxes, series:series, legend:legends, graphic:graphics
});
</script></body></html>
